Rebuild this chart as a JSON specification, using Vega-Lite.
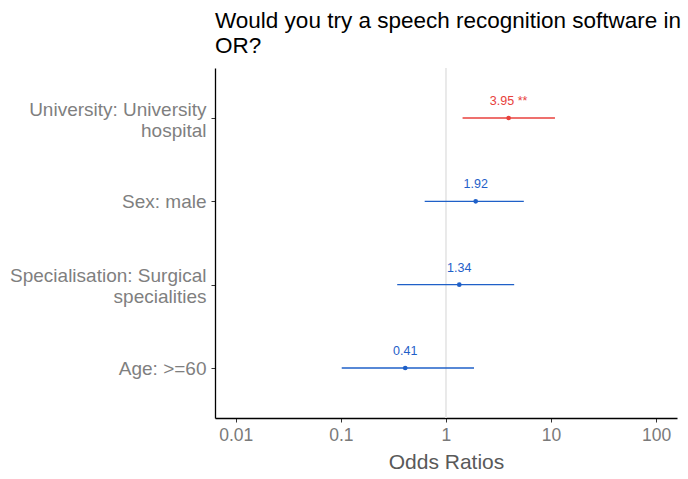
{
  "$schema": "https://vega.github.io/schema/vega-lite/v6.json",
  "autosize": "none",
  "width": 462,
  "height": 350,
  "padding": {"left": 215, "top": 68, "right": 11, "bottom": 61},
  "background": "white",
  "title": {
    "text": ["Would you try a speech recognition software in", "OR?"],
    "anchor": "start",
    "frame": "group",
    "font": "Liberation Sans",
    "fontSize": 22.5,
    "fontWeight": "normal",
    "color": "#000000",
    "lineHeight": 25,
    "offset": 10
  },
  "config": {
    "view": {"stroke": null},
    "axis": {"labelFont": "Liberation Sans", "titleFont": "Liberation Sans", "grid": false}
  },
  "data": {
    "values": [
      {"term": "University: University|hospital", "estimate": 3.95, "low": 1.44, "high": 10.9, "lab": "3.95 **", "grp": "sig"},
      {"term": "Sex: male", "estimate": 1.92, "low": 0.628, "high": 5.51, "lab": "1.92", "grp": "ns"},
      {"term": "Specialisation: Surgical|specialities", "estimate": 1.34, "low": 0.344, "high": 4.46, "lab": "1.34", "grp": "ns"},
      {"term": "Age: >=60", "estimate": 0.41, "low": 0.102, "high": 1.85, "lab": "0.41", "grp": "ns"}
    ]
  },
  "encoding": {
    "y": {
      "field": "term",
      "type": "nominal",
      "sort": null,
      "scale": {"type": "point", "padding": 0.6},
      "axis": {
        "title": null,
        "labelExpr": "split(datum.label, '|')",
        "labelFontSize": 19,
        "labelColor": "#7f7f7f",
        "labelLineHeight": 21,
        "labelOffset": {"condition": {"test": "indexof(datum.label, '|') >= 0", "value": -9}, "value": 0},
        "labelPadding": 5,
        "tickSize": 4,
        "tickColor": "#333333",
        "domainColor": "#000000",
        "domainWidth": 1.3,
        "labelLimit": 300
      }
    }
  },
  "layer": [
    {
      "mark": {"type": "rule", "color": "#e8e8e8", "strokeWidth": 1},
      "encoding": {"x": {"datum": 1, "type": "quantitative"}, "y": null}
    },
    {
      "mark": {"type": "rule", "strokeWidth": 1.3},
      "encoding": {
        "x": {
          "field": "low",
          "type": "quantitative",
          "scale": {"type": "log", "domain": [0.00635, 158], "nice": false},
          "axis": {
            "title": "Odds Ratios",
            "values": [0.01, 0.1, 1, 10, 100],
            "format": "~g",
            "labelFontSize": 17.5,
            "labelColor": "#7a7a7a",
            "titleFontSize": 21,
            "titleFontWeight": "normal",
            "titleColor": "#595959",
            "titlePadding": 8,
            "tickSize": 4,
            "tickColor": "#333333",
            "domainColor": "#000000",
            "domainWidth": 1.3,
            "labelPadding": 4
          }
        },
        "x2": {"field": "high"},
        "color": {
          "field": "grp",
          "type": "nominal",
          "scale": {"domain": ["sig", "ns"], "range": ["#e8413c", "#1f60c8"]},
          "legend": null
        }
      }
    },
    {
      "mark": {"type": "point", "filled": true, "size": 22, "opacity": 1},
      "encoding": {
        "x": {"field": "estimate", "type": "quantitative"},
        "color": {"field": "grp", "type": "nominal", "legend": null}
      }
    },
    {
      "mark": {"type": "text", "dy": -17, "fontSize": 12.5, "font": "Liberation Sans"},
      "encoding": {
        "x": {"field": "estimate", "type": "quantitative"},
        "text": {"field": "lab"},
        "color": {
          "field": "grp",
          "type": "nominal",
          "scale": {"domain": ["sig", "ns"], "range": ["#ec5a55", "#3a5ed0"]},
          "legend": null
        }
      }
    }
  ]
}
